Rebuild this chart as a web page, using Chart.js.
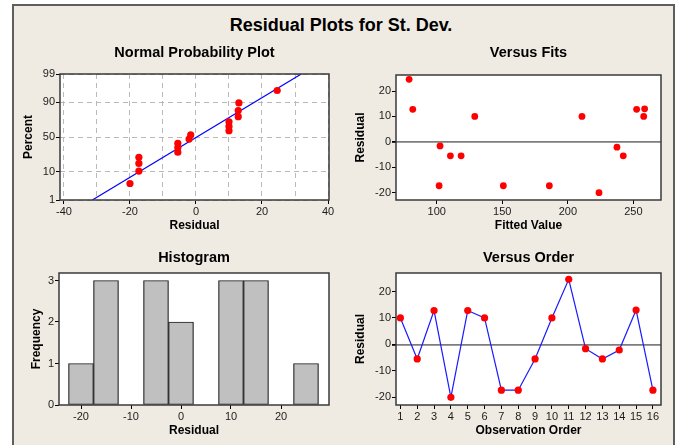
<!DOCTYPE html>
<html>
<head>
<meta charset="utf-8">
<title>Residual Plots for St. Dev.</title>
<script src="https://cdn.jsdelivr.net/npm/chart.js@4.4.1/dist/chart.umd.min.js"></script>
<style>
  body { margin: 0; background: #fff; width: 680px; height: 445px; overflow: hidden; position: relative; font-family: "Liberation Sans", Arial, sans-serif; }
  .sheet { position: absolute; left: 12px; top: 4px; width: 663px; height: 470px; box-sizing: border-box; border: 2px solid #5e5e5e; background: #efebe2; }
  .main-title { position: absolute; left: 0; top: 14px; width: 682px; text-align: center; font-weight: bold; font-size: 18px; line-height: 22px; color: #000; }
  canvas { position: absolute; }
</style>
</head>
<body>
<div class="sheet"></div>
<div class="main-title">Residual Plots for St. Dev.</div>
<canvas id="npp" width="326" height="200" style="left:14px;top:36px"></canvas>
<canvas id="fits" width="330" height="200" style="left:340px;top:36px"></canvas>
<canvas id="hist" width="326" height="205" style="left:14px;top:240px"></canvas>
<canvas id="order" width="330" height="205" style="left:340px;top:240px"></canvas>
<script>
// residuals in run order, with the fitted value for each run
const observation = [1, 2, 3, 4, 5, 6, 7, 8, 9, 10, 11, 12, 13, 14, 15, 16];
const residual = [10.0, -5.5, 12.8, -20.0, 12.8, 10.0, -17.3, -17.3, -5.5, 10.0, 24.6, -1.6, -5.5, -2.1, 13.0, -17.3];
const fitted = [129, 110.4, 81.7, 223.8, 252.5, 210.8, 101.8, 150.8, 118.6, 257.9, 78.9, 102.5, 242.3, 237.5, 258.6, 185.9];

// normal probability plot: ordered residuals and their percent positions
const nppResidual = [-20.0, -17.3, -17.3, -17.3, -5.5, -5.5, -5.5, -2.1, -1.6, 10.0, 10.0, 10.0, 12.8, 12.8, 13.0, 24.6];
const nppPercent = [4.3, 10.4, 16.5, 22.6, 28.7, 34.8, 40.9, 47.0, 53.0, 59.1, 65.2, 71.3, 77.4, 83.5, 89.6, 95.7];
const fitLineX = [-31.4, 31.9];
const fitLinePct = [1, 99];

// histogram bins (width 5)
const binCenters = [-20, -15, -10, -5, 0, 5, 10, 15, 20, 25];
const binCounts = [1, 3, 0, 3, 2, 0, 3, 3, 0, 1];

// tick positions
const pctTicks = [1, 10, 50, 90, 99];
const nppResidTicks = [-40, -30, -20, -10, 0, 10, 20, 30, 40];
const fitTicks = [100, 150, 200, 250];
const residTicks = [-20, -10, 0, 10, 20];
const histResidTicks = [-20, -10, 0, 10, 20];
const freqTicks = [0, 1, 2, 3];

Chart.defaults.font.family = '"Liberation Sans", Arial, sans-serif';
Chart.defaults.color = '#1c1c1c';
Chart.defaults.animation = false;
Chart.defaults.events = [];
Chart.defaults.plugins.legend.display = false;
Chart.defaults.plugins.tooltip.enabled = false;

// inverse normal cdf (Acklam)
function probit(p) {
  const a = [-39.69683028665376, 220.9460984245205, -275.9285104469687, 138.3577518672690, -30.66479806614716, 2.506628277459239];
  const b = [-54.47609879822406, 161.5858368580409, -155.6989798598866, 66.80131188771972, -13.28068155288572];
  const c = [-0.007784894002430293, -0.3223964580411365, -2.400758277161838, -2.549732539343734, 4.374664141464968, 2.938163982698783];
  const d = [0.007784695709041462, 0.3224671290700398, 2.445134137142996, 3.754408661907416];
  const lo = 0.02425;
  if (p < lo || p > 1 - lo) {
    const q = Math.sqrt(-2 * Math.log(p < lo ? p : 1 - p));
    const z = (((((c[0] * q + c[1]) * q + c[2]) * q + c[3]) * q + c[4]) * q + c[5]) /
      ((((d[0] * q + d[1]) * q + d[2]) * q + d[3]) * q + 1);
    return p < lo ? z : -z;
  }
  const q = p - 0.5, r = q * q;
  return (((((a[0] * r + a[1]) * r + a[2]) * r + a[3]) * r + a[4]) * r + a[5]) * q /
    (((((b[0] * r + b[1]) * r + b[2]) * r + b[3]) * r + b[4]) * r + 1);
}

function normCdf(z) {
  const t = 1 / (1 + 0.2316419 * Math.abs(z));
  const dens = 0.3989423 * Math.exp(-z * z / 2);
  const p = dens * t * (0.3193815 + t * (-0.3565638 + t * (1.781478 + t * (-1.821256 + t * 1.330274))));
  return z > 0 ? 1 - p : p;
}

// percent axis spaced by normal quantiles
class ProbitScale extends Chart.LinearScale {
  determineDataLimits() {
    this.min = this.options.min;
    this.max = this.options.max;
  }
  buildTicks() {
    return pctTicks.map(v => ({ value: v }));
  }
  configure() {
    super.configure();
    this._zLo = probit(this.min / 100);
    this._zHi = probit(this.max / 100);
  }
  getPixelForValue(value) {
    return this.getPixelForDecimal((probit(value / 100) - this._zLo) / (this._zHi - this._zLo));
  }
  getValueForPixel(pixel) {
    const dec = this.getDecimalForPixel(pixel);
    return normCdf(this._zLo + dec * (this._zHi - this._zLo)) * 100;
  }
}
ProbitScale.id = 'probit';
ProbitScale.defaults = Chart.LinearScale.defaults;
Chart.register(ProbitScale);

// white plot area with a dark frame
const framePlugin = {
  id: 'frame',
  beforeDraw(chart) {
    const { ctx, chartArea: a } = chart;
    ctx.save();
    ctx.fillStyle = '#fff';
    ctx.fillRect(a.left, a.top, a.right - a.left, a.bottom - a.top);
    ctx.restore();
  },
  afterDatasetsDraw(chart) {
    const { ctx, chartArea: a } = chart;
    ctx.save();
    ctx.strokeStyle = '#3a3a3a';
    ctx.lineWidth = 1.5;
    ctx.strokeRect(a.left, a.top, a.right - a.left, a.bottom - a.top);
    ctx.restore();
  }
};
Chart.register(framePlugin);

const tickFont = { size: 11 };

function panelTitle(text, top, bottom) {
  return { display: true, text: text, color: '#000', fullSize: false, font: { size: 14.5, weight: 'bold' }, padding: { top: top, bottom: bottom } };
}

function axisTitle(text, padding) {
  return { display: true, text: text, color: '#000', font: { size: 12, weight: 'bold' }, padding: padding };
}

function plainGrid() {
  return { drawOnChartArea: false, drawTicks: true, tickLength: 4, tickColor: '#000', offset: false };
}

function zeroLineGrid() {
  return {
    drawOnChartArea: true,
    drawTicks: true,
    tickLength: 4,
    tickColor: '#000',
    color: (c) => (c.tick && c.tick.value === 0 ? '#7d7d7d' : 'rgba(0,0,0,0)'),
    lineWidth: (c) => (c.tick && c.tick.value === 0 ? 1.8 : 1)
  };
}

const fixWidth = (w) => (scale) => { scale.width = w; };
const fixHeight = (h) => (scale) => { scale.height = h; };
const useTicks = (values) => (scale) => { scale.ticks = values.map(v => ({ value: v })); };

// Normal Probability Plot
new Chart(document.getElementById('npp'), {
  type: 'scatter',
  data: {
    datasets: [
      {
        type: 'line',
        data: fitLineX.map((x, i) => ({ x: x, y: fitLinePct[i] })),
        borderColor: '#0000ff',
        borderWidth: 1.2,
        pointRadius: 0,
        order: 2
      },
      {
        data: nppResidual.map((x, i) => ({ x: x, y: nppPercent[i] })),
        pointBackgroundColor: '#ff0000',
        pointBorderWidth: 0,
        pointRadius: 3.6,
        order: 1
      }
    ]
  },
  options: {
    responsive: false,
    layout: { padding: { right: 11 } },
    plugins: { title: panelTitle('Normal Probability Plot', 8, 12.6) },
    scales: {
      x: {
        type: 'linear',
        min: -41.2,
        max: 40.3,
        afterBuildTicks: useTicks(nppResidTicks),
        afterFit: fixHeight(36),
        border: { display: false, dash: [5, 4] },
        grid: {
          drawOnChartArea: true,
          drawTicks: true,
          tickLength: 4,
          color: '#b9b9b9',
          tickColor: (c) => (c.tick && c.tick.value % 20 === 0 ? '#000' : 'rgba(0,0,0,0)')
        },
        ticks: { maxRotation: 0, autoSkip: false, padding: 1, font: tickFont,
          callback: (v) => (v % 20 === 0 ? v : '') },
        title: axisTitle('Residual', { top: 0, bottom: 2.8 })
      },
      y: {
        type: 'probit',
        min: 1,
        max: 99,
        afterFit: fixWidth(46),
        border: { display: false, dash: [5, 4] },
        grid: { drawOnChartArea: true, drawTicks: true, tickLength: 4, color: '#b9b9b9', tickColor: '#000' },
        ticks: { padding: 1, font: tickFont, callback: (v) => v },
        title: axisTitle('Percent', { top: 7.3, bottom: 0 })
      }
    }
  }
});

// Versus Fits
new Chart(document.getElementById('fits'), {
  type: 'scatter',
  data: {
    datasets: [{
      data: fitted.map((x, i) => ({ x: x, y: residual[i] })),
      pointBackgroundColor: '#ff0000',
      pointBorderWidth: 0,
      pointRadius: 3.4
    }]
  },
  options: {
    responsive: false,
    layout: { padding: { right: 9 } },
    plugins: { title: panelTitle('Versus Fits', 8, 13.6) },
    scales: {
      x: {
        type: 'linear',
        min: 68.9,
        max: 271.1,
        afterBuildTicks: useTicks(fitTicks),
        afterFit: fixHeight(36),
        border: { display: false },
        grid: plainGrid(),
        ticks: { maxRotation: 0, autoSkip: false, padding: 1, font: tickFont },
        title: axisTitle('Fitted Value', { top: 0, bottom: 2.8 })
      },
      y: {
        min: -22.9,
        max: 26.3,
        afterBuildTicks: useTicks(residTicks),
        afterFit: fixWidth(56),
        border: { display: false },
        grid: zeroLineGrid(),
        ticks: { padding: 1, font: tickFont },
        title: axisTitle('Residual', { top: 13.3, bottom: 0 })
      }
    }
  }
});

// Histogram
new Chart(document.getElementById('hist'), {
  type: 'bar',
  data: {
    datasets: [{
      data: binCenters.map((x, i) => ({ x: x, y: binCounts[i] })),
      backgroundColor: '#c0c0c0',
      borderColor: '#1e1e1e',
      borderWidth: 1.2,
      borderSkipped: false,
      barPercentage: 1,
      categoryPercentage: 1
    }]
  },
  options: {
    responsive: false,
    layout: { padding: { right: 11 } },
    plugins: { title: panelTitle('Histogram', 9.6, 6.0) },
    scales: {
      x: {
        type: 'linear',
        offset: false,
        min: -24.4,
        max: 29.6,
        afterBuildTicks: useTicks(histResidTicks),
        afterFit: fixHeight(40),
        border: { display: false },
        grid: plainGrid(),
        ticks: { maxRotation: 0, autoSkip: false, padding: 1, font: tickFont },
        title: axisTitle('Residual', { top: 0, bottom: 7.3 })
      },
      y: {
        min: 0,
        max: 3.18,
        afterBuildTicks: useTicks(freqTicks),
        afterFit: fixWidth(45),
        border: { display: false },
        grid: plainGrid(),
        ticks: { padding: 1, font: tickFont },
        title: axisTitle('Frequency', { top: 15.8, bottom: 0 })
      }
    }
  }
});

// Versus Order
new Chart(document.getElementById('order'), {
  type: 'line',
  data: {
    datasets: [{
      data: observation.map((x, i) => ({ x: x, y: residual[i] })),
      borderColor: '#1a1aff',
      borderWidth: 1.2,
      pointBackgroundColor: '#ff0000',
      pointBorderWidth: 0,
      pointRadius: 3.6,
      tension: 0
    }]
  },
  options: {
    responsive: false,
    layout: { padding: { right: 9 } },
    plugins: { title: panelTitle('Versus Order', 9.6, 6.0) },
    scales: {
      x: {
        type: 'linear',
        min: 0.74,
        max: 16.48,
        afterBuildTicks: useTicks(observation),
        afterFit: fixHeight(40),
        border: { display: false },
        grid: plainGrid(),
        ticks: { maxRotation: 0, autoSkip: false, padding: 1, font: tickFont },
        title: axisTitle('Observation Order', { top: 0, bottom: 7.3 })
      },
      y: {
        min: -22.9,
        max: 27,
        afterBuildTicks: useTicks(residTicks),
        afterFit: fixWidth(56),
        border: { display: false },
        grid: zeroLineGrid(),
        ticks: { padding: 1, font: tickFont },
        title: axisTitle('Residual', { top: 13.3, bottom: 0 })
      }
    }
  }
});
</script>
</body>
</html>
